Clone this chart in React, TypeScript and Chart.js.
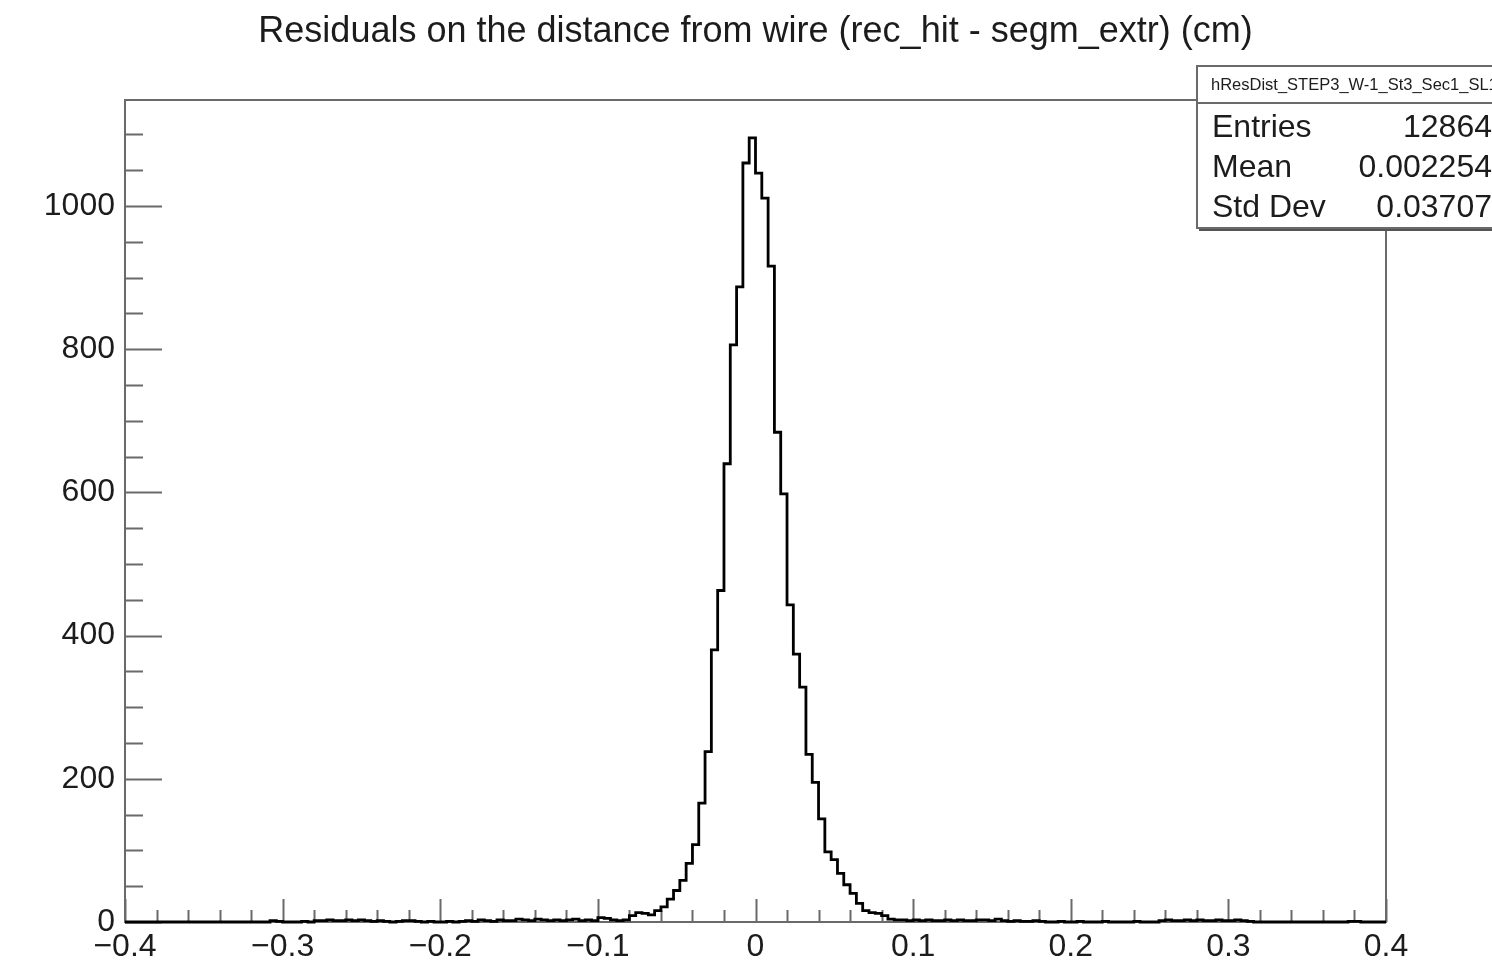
import React, { useEffect, useRef } from "react";
import { Chart, registerables } from "chart.js";

Chart.register(...registerables);

const TITLE = "Residuals on the distance from wire (rec_hit - segm_extr) (cm)";
const HIST_NAME = "hResDist_STEP3_W-1_St3_Sec1_SL1";
const STATS_LABELS = ["Entries", "Mean", "Std Dev"];
const STATS_VALUES = ["12864", "0.002254", "0.03707"];

const X_MIN = -0.4;
const X_MAX = 0.4;
const BIN_WIDTH = 0.004;
const Y_MAX = 1148;

// counts, bins of 0.004 from -0.400 to -0.100 (5 bins per line)
const leftTail = [
  0, 0, 0, 0, 0,
  0, 0, 0, 0, 0,
  0, 0, 0, 0, 0,
  0, 0, 0, 0, 0,
  0, 0, 0, 2, 1,
  0, 0, 0, 1, 0,
  2, 2, 3, 2, 2,
  3, 2, 3, 2, 1,
  2, 1, 0, 1, 2,
  2, 1, 0, 1, 0,
  0, 1, 0, 1, 2,
  1, 3, 2, 1, 3,
  2, 2, 4, 3, 2,
  4, 3, 2, 3, 2,
  3, 4, 2, 3, 2,
];
// -0.100 to 0.000
const leftCore = [
  6, 5, 3, 2, 3,
  9, 13, 12, 10, 16,
  21, 32, 44, 58, 82,
  108, 166, 238, 380, 463,
  640, 806, 887, 1060, 1095,
];
// 0.000 to 0.100
const rightCore = [
  1046, 1011, 916, 684, 598,
  443, 374, 328, 234, 195,
  144, 98, 87, 68, 52,
  40, 26, 16, 13, 12,
  9, 4, 3, 3, 2,
];
// 0.100 to 0.400
const rightTail = [
  3, 2, 3, 2, 2,
  3, 2, 3, 2, 2,
  3, 3, 2, 4, 2,
  1, 2, 1, 1, 2,
  1, 0, 0, 1, 0,
  0, 1, 0, 0, 0,
  1, 0, 0, 0, 0,
  1, 0, 0, 0, 2,
  3, 2, 2, 3, 2,
  3, 2, 2, 3, 2,
  2, 3, 2, 1, 0,
  0, 0, 0, 0, 0,
  0, 0, 0, 0, 0,
  0, 0, 0, 0, 1,
  1, 0, 0, 0, 0,
];

const xTickValues = [-0.4, -0.3, -0.2, -0.1, 0, 0.1, 0.2, 0.3, 0.4];
const xTickLabels = ["\u22120.4", "\u22120.3", "\u22120.2", "\u22120.1", "0", "0.1", "0.2", "0.3", "0.4"];
const yTickValues = [0, 200, 400, 600, 800, 1000];
const yTickLabels = ["0", "200", "400", "600", "800", "1000"];

const FONT = "'Liberation Sans', Arial, Helvetica, sans-serif";
const AXIS_COLOR = "#6a6a6a";
const TEXT_COLOR = "#1c1c1c";

const rootPlugin = {
  id: "rootStyle",
  beforeDraw(chart: any) {
    const ctx = chart.ctx;
    ctx.save();
    ctx.fillStyle = "#ffffff";
    ctx.fillRect(0, 0, chart.width, chart.height);
    ctx.restore();
  },
  beforeDatasetsDraw(chart: any) {
    const { ctx, chartArea, scales } = chart;
    const xs = scales.x;
    const ys = scales.y;
    ctx.save();
    ctx.strokeStyle = AXIS_COLOR;
    ctx.lineWidth = 2;
    ctx.strokeRect(chartArea.left, chartArea.top, chartArea.right - chartArea.left, chartArea.bottom - chartArea.top);
    ctx.beginPath();
    for (let k = 0; k <= 40; k++) {
      const v = X_MIN + k * 0.02;
      const px = Math.round(xs.getPixelForValue(v)) + 0.5;
      const major = k % 5 === 0;
      const len = major ? 23 : 12;
      ctx.moveTo(px, chartArea.bottom);
      ctx.lineTo(px, chartArea.bottom - len);
    }
    for (let k = 0; k <= 22; k++) {
      const v = k * 50;
      if (v > Y_MAX) break;
      const py = Math.round(ys.getPixelForValue(v)) + 0.5;
      const major = k % 4 === 0;
      const len = major ? 37 : 18;
      ctx.moveTo(chartArea.left, py);
      ctx.lineTo(chartArea.left + len, py);
    }
    ctx.stroke();
    ctx.restore();
  },
  afterDraw(chart: any) {
    const { ctx, chartArea } = chart;
    ctx.save();
    ctx.fillStyle = TEXT_COLOR;
    ctx.font = `36px ${FONT}`;
    ctx.textAlign = "center";
    ctx.textBaseline = "alphabetic";
    ctx.fillText(TITLE, (chartArea.left + chartArea.right) / 2, 42);

    const bx = 1197, by = 66, bw = 360, bh = 162;
    ctx.fillStyle = "#555";
    ctx.fillRect(bx + 2, by + 3, bw, bh);
    ctx.fillStyle = "#fff";
    ctx.fillRect(bx, by, bw, bh);
    ctx.strokeStyle = AXIS_COLOR;
    ctx.lineWidth = 2;
    ctx.strokeRect(bx, by, bw, bh);
    ctx.beginPath();
    ctx.moveTo(bx, 103);
    ctx.lineTo(bx + bw, 103);
    ctx.stroke();

    ctx.fillStyle = TEXT_COLOR;
    ctx.font = `16.5px ${FONT}`;
    ctx.textAlign = "left";
    ctx.textBaseline = "middle";
    ctx.fillText(HIST_NAME, 1211, 85);

    ctx.font = `32px ${FONT}`;
    const rows = [128, 168, 208];
    STATS_LABELS.forEach((l, i) => {
      ctx.textAlign = "left";
      ctx.fillText(l, 1212, rows[i]);
      ctx.textAlign = "right";
      ctx.fillText(STATS_VALUES[i], 1492, rows[i]);
    });
    ctx.restore();
  },
};

export default function App() {
  const ref = useRef<HTMLCanvasElement | null>(null);

  useEffect(() => {
    if (!ref.current) return;
    const counts = [...leftTail, ...leftCore, ...rightCore, ...rightTail];
    const pts = counts.map((c, i) => ({ x: X_MIN + i * BIN_WIDTH, y: c }));
    pts.push({ x: X_MAX, y: counts[counts.length - 1] });

    const chart = new Chart(ref.current, {
      type: "line",
      data: {
        datasets: [
          {
            data: pts,
            borderColor: "#000",
            borderWidth: 2.8,
            pointRadius: 0,
            stepped: "before",
            fill: false,
            tension: 0,
            clip: false,
          } as any,
        ],
      },
      plugins: [rootPlugin],
      options: {
        responsive: false,
        devicePixelRatio: 1,
        animation: false,
        events: [],
        layout: { padding: { top: 100, right: 106, left: 0, bottom: 0 } },
        plugins: {
          legend: { display: false },
          tooltip: { enabled: false },
          title: { display: false },
        },
        scales: {
          x: {
            type: "linear",
            min: X_MIN,
            max: X_MAX,
            grid: { display: false, drawTicks: false },
            border: { display: false },
            ticks: {
              color: TEXT_COLOR,
              font: { family: FONT, size: 32 },
              padding: 6,
              maxRotation: 0,
              autoSkip: false,
              callback: (_v: any, i: number) => xTickLabels[i],
            },
            afterBuildTicks: (scale: any) => {
              scale.ticks = xTickValues.map((v) => ({ value: v }));
            },
            afterFit: (scale: any) => {
              scale.height = 46;
            },
          },
          y: {
            type: "linear",
            min: 0,
            max: Y_MAX,
            grid: { display: false, drawTicks: false },
            border: { display: false },
            ticks: {
              color: TEXT_COLOR,
              font: { family: FONT, size: 32 },
              padding: 10,
              autoSkip: false,
              callback: (_v: any, i: number) => yTickLabels[i],
            },
            afterBuildTicks: (scale: any) => {
              scale.ticks = yTickValues.map((v) => ({ value: v }));
            },
            afterFit: (scale: any) => {
              scale.width = 125;
            },
          },
        },
      } as any,
    });
    return () => chart.destroy();
  }, []);

  return (
    <div style={{ position: "absolute", left: 0, top: 0, width: 1492, height: 968, background: "#fff", overflow: "hidden" }}>
      <canvas ref={ref} width={1492} height={968} style={{ display: "block" }} />
    </div>
  );
}
